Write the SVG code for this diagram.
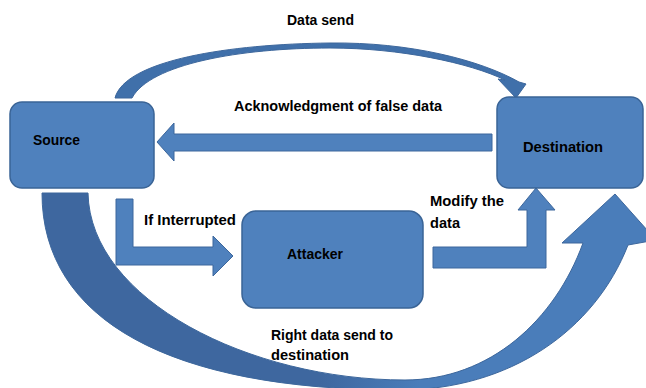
<svg xmlns="http://www.w3.org/2000/svg" width="646" height="388" viewBox="0 0 646 388">
<style>
.box{fill:#4f81bd;stroke:#3a6496;stroke-width:1.5}
.arr{fill:#4f81bd;stroke:#3d679c;stroke-width:1}
.t{font-family:"Liberation Sans",Arial,sans-serif;font-weight:bold;font-size:14px;fill:#000}
</style>
<defs>
<linearGradient id="bigGrad" gradientUnits="userSpaceOnUse" x1="320" y1="0" x2="420" y2="0">
<stop offset="0" stop-color="#3e679f"/>
<stop offset="1" stop-color="#4a7dba"/>
</linearGradient>
</defs>
<rect width="646" height="388" fill="#fff"/>
<g id="connectors">
<path id="arc-data-send" d="M115,98 C125,60 230,44 330,43 C410,42 480,60 519,82 L526,84 L516,98 L498,79 L505,80 C470,63 400,48 330,48 C240,48 150,64 132,98 Z" fill="#4070aa" stroke="#3d679c" stroke-width="1"/>
<polygon id="arrow-ack" class="arr" points="492,134 174,134 174,123 157,142 174,161 174,151 492,151"/>
<polygon id="arrow-interrupt" class="arr" points="116,199 133,199 133,247 213,247 213,236 233,256 213,276 213,265 116,265"/>
<polygon id="arrow-modify" class="arr" points="433,247 527,247 527,210 518,210 536,188 555,210 546,210 546,268 433,268"/>
<path id="arc-right-data" d="M42,193 C42,320 170,390 400,390 C510,390 595,330 628,245 L656,240 L615,194 L562,243 L583,243 C555,320 490,380 405,380 C250,380 90,300 88,193 Z" fill="url(#bigGrad)" stroke="#3d679c" stroke-width="1"/>
<text class="t" x="287" y="25" textLength="67" lengthAdjust="spacingAndGlyphs">Data send</text>
<text class="t" x="234" y="111" textLength="208" lengthAdjust="spacingAndGlyphs">Acknowledgment of false data</text>
<text class="t" x="144" y="225" textLength="92" lengthAdjust="spacingAndGlyphs">If Interrupted</text>
<text class="t" x="430" y="206" textLength="74" lengthAdjust="spacingAndGlyphs">Modify the</text>
<text class="t" x="430" y="228" textLength="30" lengthAdjust="spacingAndGlyphs">data</text>
<text class="t" x="271" y="340" textLength="122" lengthAdjust="spacingAndGlyphs">Right data send to</text>
<text class="t" x="271" y="360" textLength="78" lengthAdjust="spacingAndGlyphs">destination</text>
</g>
<g id="source">
<rect class="box" x="10" y="102" width="144" height="86" rx="12"/>
<text class="t" x="33" y="145" textLength="47" lengthAdjust="spacingAndGlyphs">Source</text>
</g>
<g id="destination">
<rect class="box" x="497" y="97" width="146" height="91" rx="12"/>
<text class="t" x="523" y="152" textLength="80" lengthAdjust="spacingAndGlyphs">Destination</text>
</g>
<g id="attacker">
<rect class="box" x="242" y="211" width="181" height="97" rx="14"/>
<text class="t" x="287" y="259" textLength="56" lengthAdjust="spacingAndGlyphs">Attacker</text>
</g>
</svg>
